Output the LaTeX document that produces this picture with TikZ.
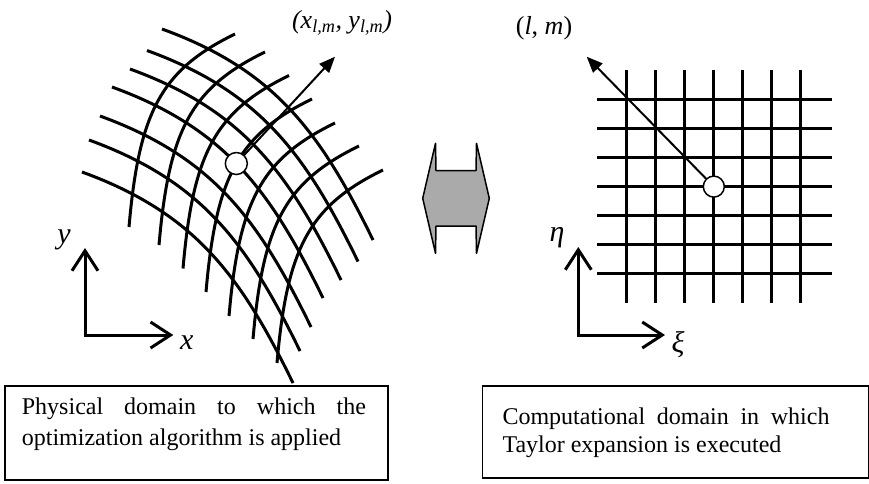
\documentclass[tikz,border=0pt]{standalone}
\usepackage{fontspec}
\setmainfont{Liberation Serif}
\usetikzlibrary{arrows.meta,calc,intersections}
\definecolor{blockgray}{RGB}{170,170,170}
\begin{document}
\begin{tikzpicture}[x=1pt,y=-1pt,
  gridln/.style={line width=3pt},
  ptr/.style={line width=2pt,-{Triangle[length=16pt,width=13pt]}},
  axarrow/.style={line width=3pt,{Straight Barb[length=20pt,width=26pt]}-{Straight Barb[length=20pt,width=26pt]}},
  ptcircle/.style={circle,draw,fill=white,line width=1.5pt,inner sep=0pt},
  box/.style={draw,line width=1.5pt,rectangle,inner sep=0pt},
  boxtext/.style={anchor=base west,inner sep=0pt,font=\fontsize{24}{29}\selectfont},
  axlabel/.style={inner sep=0pt,font=\fontsize{30}{32}\selectfont\itshape},
  ptlabel/.style={inner sep=0pt,font=\fontsize{26}{28}\selectfont}
]
\useasboundingbox (0,0) rectangle (869,483);

% ---- curvilinear (physical) grid ----
\foreach \sx/\sy [count=\i] in {162/29,147/50.5,130/69,112/87,100/116,89/140,82/172}{
  \draw[gridln,name path global=row\i] (\sx,\sy) .. controls ($(\sx,\sy)+(112.8,41)$) and ($(\sx,\sy)+(158.4,103.1)$) .. ($(\sx,\sy)+(211,211)$);
}
\foreach \bx/\by [count=\i] in {129/227,159/245,183/268.5,206/292,229/316,253/339,277/363}{
  \draw[gridln,name path global=col\i] (\bx,\by) .. controls ($(\bx,\by)+(10,-115)$) and ($(\bx,\by)+(32,-157)$) .. ($(\bx,\by)+(106,-193)$);
}
\path[name intersections={of=row4 and col4, by=cl}];
\node[ptcircle,minimum size=22pt] (circL) at (cl) {};
\coordinate (tipL) at (335,56.7);
\draw[ptr] (circL) -- (tipL);
\node[ptlabel,font=\fontsize{26}{28}\selectfont\itshape] (lblL) at (342,23) {(x\textsubscript{l,m}, y\textsubscript{l,m})};

% ---- Cartesian (computational) grid ----
\foreach \i in {0,...,6}{
  \draw[gridln] ({626.8+29*\i},70) -- ({626.8+29*\i},303);
  \draw[gridln] (597,{99.3+29.1*\i}) -- (832,{99.3+29.1*\i});
}
\node[ptcircle,minimum size=21pt] (circR) at (713.8,186.6) {};
\coordinate (tipR) at (586.7,56.7);
\draw[ptr] (circR) -- (tipR);
\node[ptlabel] (lblR) at (544,28) {(\textit{l}, \textit{m})};

% ---- axes ----
\coordinate (oL) at (85,335);
\coordinate (yT) at (85,248);
\coordinate (xT) at (173.3,335);
\draw[axarrow] (yT) -- (oL) -- (xT);
\node[axlabel] (ylab) at (64,240) {y};
\node[axlabel] (xlab) at (186.7,343) {x};

\coordinate (oR) at (578.3,335);
\coordinate (etaT) at (578.3,247);
\coordinate (xiT) at (665,335);
\draw[axarrow] (etaT) -- (oR) -- (xiT);
\node[axlabel] (etalab) at (557,238) {η};
\node[axlabel] (xilab) at (678,345) {ξ};

% ---- double block arrow ----
\draw[line width=1.5pt,fill=blockgray,line join=round] (422.7,198.3) -- (435.5,143.3) -- (436,170.7) -- (476,170.7) -- (476.5,143.3) -- (489.3,198.3) -- (476.5,253.3) -- (476,226) -- (436,226) -- (435.5,253.3) -- cycle;

% ---- caption boxes ----
\node[box,anchor=north west,minimum width=383pt,minimum height=94pt] (physbox) at (4,385) {};
\node[box,anchor=north west,minimum width=386.6pt,minimum height=92.3pt] (compbox) at (481.7,385) {};
\node[boxtext] (phys1) at (21.7,414.3) {\hbox to 344pt{Physical\hfill domain\hfill to\hfill which\hfill the}};
\node[boxtext] (phys2) at (21.7,445) {optimization algorithm is applied};
\node[boxtext] (comp1) at (502.3,424.3) {\hbox to 327pt{Computational\hfill domain\hfill in\hfill which}};
\node[boxtext] (comp2) at (502.3,452.7) {Taylor expansion is executed};
\end{tikzpicture}
\end{document}
